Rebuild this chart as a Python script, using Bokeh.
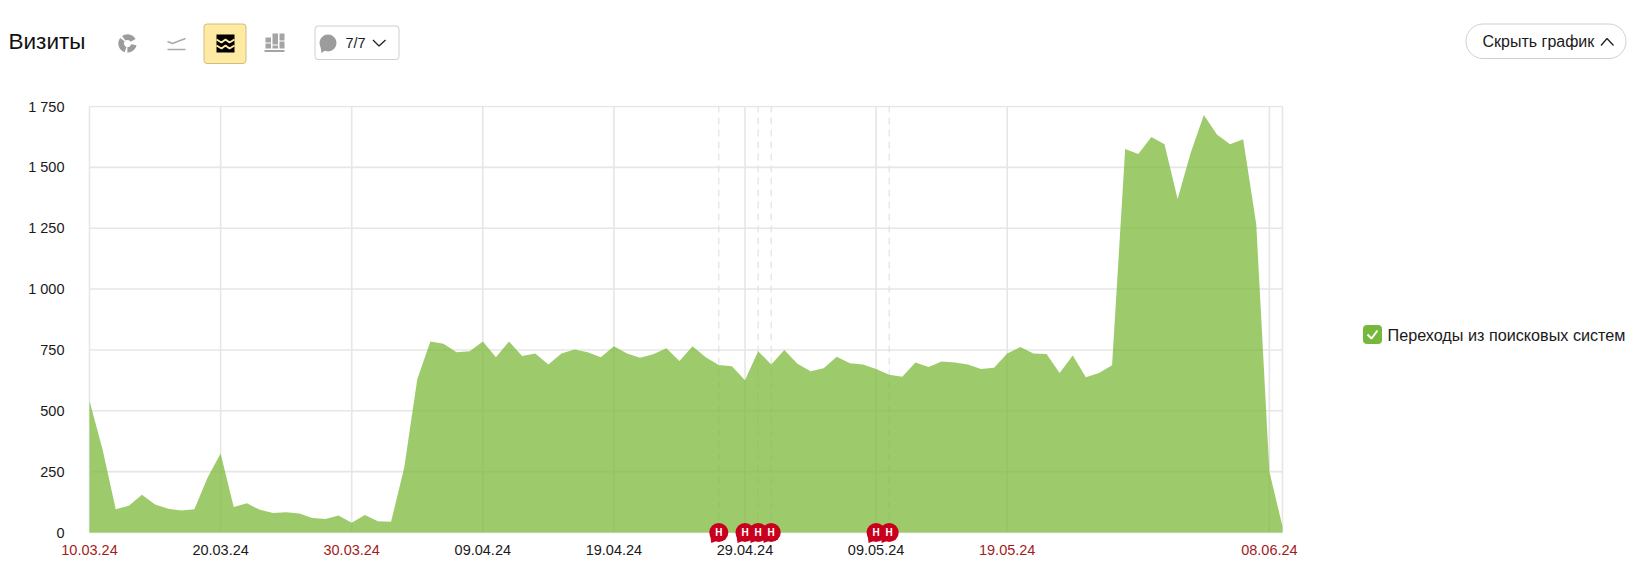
from datetime import datetime, timedelta

from bokeh.core.properties import value
from bokeh.embed import file_html
from bokeh.layouts import column, row
from bokeh.models import BoxAnnotation, FixedTicker, LinearAxis, Range1d
from bokeh.plotting import figure
from bokeh.resources import INLINE

# ---- data ----
start_date = "2024-03-10"
visits = [540, 340, 95, 110, 155, 115, 98, 90, 95, 225, 325, 105, 120, 93, 80, 83, 78, 60, 55, 70,
          40, 72, 46, 44, 265, 630, 785, 775, 740, 745, 785, 720, 785, 725, 735, 690, 735, 752, 740, 720,
          765, 735, 718, 732, 757, 705, 765, 720, 688, 683, 625, 745, 690, 750, 693, 662, 675, 722, 695, 690,
          672, 648, 640, 698, 680, 702, 698, 690, 672, 677, 735, 762, 735, 733, 655, 727, 638, 655, 687, 1575,
          1555, 1625, 1595, 1370, 1560, 1715, 1635, 1595, 1615, 1265, 250, 25]
y_ticks = [0, 250, 500, 750, 1000, 1250, 1500, 1750]
y_labels = ["0", "250", "500", "750", "1 000", "1 250", "1 500", "1 750"]
black_ticks = ["2024-03-20", "2024-04-09", "2024-04-19", "2024-04-29", "2024-05-09"]
red_ticks = ["2024-03-10", "2024-03-30", "2024-05-19", "2024-06-08"]
note_dates = ["2024-04-27", "2024-04-29", "2024-04-30", "2024-05-01", "2024-05-09", "2024-05-10"]
dashed_dates = ["2024-04-27", "2024-04-30", "2024-05-01", "2024-05-10"]
title = "Визиты"
legend_label = "Переходы из поисковых систем"
hide_label = "Скрыть график"
notes_label = "7/7"

FONT = value("Liberation Sans")
GRID = "#e6e6e6"
INK = "#1a1a1a"
GRAY = "#9c9c9c"
RED = "#c8001e"


def d(s):
    return datetime.strptime(s, "%Y-%m-%d")


dates = [d(start_date) + timedelta(days=i) for i in range(len(visits))]


def box(fig, l, r, t, b, fill, line, radius):
    fig.add_layout(BoxAnnotation(left=l, right=r, top=t, bottom=b, left_units="data", right_units="data",
                                 top_units="data", bottom_units="data", fill_color=fill, fill_alpha=1,
                                 line_color=line, line_alpha=1, line_width=1, border_radius=radius, level="annotation"))


# ---- header strip, drawn in page pixels ----
h = figure(width=1637, height=78, x_range=Range1d(0, 1637), y_range=Range1d(78, 0), output_backend="svg",
           toolbar_location=None, x_axis_location=None, y_axis_location=None, min_border=0,
           outline_line_color=None)
h.grid.visible = False
h.text([8], [41], text=[title], text_font=FONT, text_font_size="22.5px", text_color="#111111",
       text_baseline="middle", text_align="left")

# pie icon
for a0, a1 in [(0.5, 2.2), (2.5, 4.4), (4.7, 6.1)]:
    h.annular_wedge([127], [43], inner_radius=3.6, outer_radius=9.2, start_angle=a0, end_angle=a1,
                    fill_color=GRAY, line_color=None)
# line icon
h.line([167, 172, 177, 185], [41, 43, 41, 38], line_color="#aaaaaa", line_width=1.5)
h.line([167, 185], [49, 49], line_color="#aaaaaa", line_width=1.5)
# active stacked icon
box(h, 203.5, 245.5, 63, 23.5, "#ffeaa3", "#d3bd7c", 3)
h.quad(left=[216], right=[234], top=[34], bottom=[52], fill_color="#000000", line_color=None, level="overlay")
for yy in (40, 46):
    h.line([216, 221, 225, 229, 234], [yy - 1, yy + 2, yy - 1, yy + 2, yy - 1], line_color="#ffeaa3",
           line_width=2, level="overlay")
# bars icon
h.quad(left=[265, 265, 272, 272, 279, 279], right=[270.5, 270.5, 277.5, 277.5, 284, 284],
       top=[37, 43, 33, 45, 33, 41], bottom=[42, 48, 44, 48, 40, 48], fill_color="#a4a4a4", line_color=None)
h.line([264, 284], [50.5, 50.5], line_color="#a4a4a4", line_width=2)
# notes filter button
box(h, 314.5, 398.5, 59, 25.5, "#ffffff", "#cfcfcf", 3)
h.circle([327.5], [42.5], radius=8.5, fill_color=GRAY, line_color=None, level="overlay")
h.patch([320, 326, 321], [46, 49, 52.5], fill_color=GRAY, line_color=None, level="overlay")
h.text([345], [42.5], text=[notes_label], text_font=FONT, text_font_size="14.5px", text_color=INK,
       text_baseline="middle", text_align="left", level="overlay")
h.line([372.5, 378.5, 385], [39.5, 45.5, 39.5], line_color="#222222", line_width=1.3, level="overlay")
# hide chart button
box(h, 1465.5, 1625.5, 58, 23.5, "#ffffff", "#cfcfcf", 17)
h.text([1482], [41], text=[hide_label], text_font=FONT, text_font_size="16px", text_color=INK,
       text_baseline="middle", text_align="left", level="overlay")
h.line([1600.5, 1606.5, 1613], [45, 38, 45], line_color="#222222", line_width=1.3, level="overlay")

# ---- chart ----
PX_PER_UNIT = 426 / 1750
PX_PER_DAY = 13.1


def px_x(n, dx):
    return n + timedelta(days=dx / PX_PER_DAY)


# the frame runs past the data on both sides so that the end date labels fit inside it
p = figure(width=1298, height=505, x_axis_type="datetime",
           x_range=Range1d(px_x(dates[0], -33), px_x(dates[-1], 15)),
           y_range=Range1d(-30 / PX_PER_UNIT, 1750 + 1 / PX_PER_UNIT),
           output_backend="svg", toolbar_location=None, x_axis_location=None, y_axis_location=None,
           min_border_left=56, min_border_right=1, min_border_top=27, min_border_bottom=21,
           outline_line_color=None)
p.grid.visible = False

all_ticks = [d(s) for s in sorted(black_ticks + red_ticks)]
# horizontal and vertical rules
p.segment(x0=[dates[0]] * len(y_ticks), x1=[dates[-1]] * len(y_ticks), y0=y_ticks, y1=y_ticks,
          line_color=GRID, line_width=1.6)
p.segment(x0=all_ticks + [dates[-1]], x1=all_ticks + [dates[-1]], y0=[0] * (len(all_ticks) + 1),
          y1=[y_ticks[-1]] * (len(all_ticks) + 1), line_color=GRID, line_width=1.6)
dd = [d(s) for s in dashed_dates]
p.segment(x0=dd, x1=dd, y0=[0] * len(dd), y1=[y_ticks[-1]] * len(dd), line_color="#e2e2e2", line_width=1.2,
          line_dash="7 5")

p.varea(x=dates, y1=[0] * len(visits), y2=visits, fill_color="#7cb83a", fill_alpha=0.75)

# y axis
ya = LinearAxis(ticker=FixedTicker(ticks=y_ticks), major_label_overrides=dict(zip(y_ticks, y_labels)),
                axis_line_color=None, major_tick_line_color=None, minor_tick_line_color=None,
                major_label_standoff=-14, major_label_text_font="Liberation Sans",
                major_label_text_font_size="14.5px", major_label_text_color=INK)
p.add_layout(ya, "left")

# date labels under the zero line, per-label colour
for ticks, color in ((black_ticks, INK), (red_ticks, "#a31c1c")):
    tx = [d(t) for t in ticks]
    p.text(x=tx, y=[0] * len(tx), text=[t.strftime("%d.%m.%y") for t in tx], y_offset=17.5,
           text_font=FONT, text_font_size="14.5px", text_color=color, text_align="center",
           text_baseline="middle")

# note markers
nd = [d(s) for s in note_dates]
p.patches(xs=[[px_x(n, -8.5), px_x(n, -7.5), px_x(n, -1)] for n in nd],
          ys=[[-3 / PX_PER_UNIT, -10.5 / PX_PER_UNIT, -8 / PX_PER_UNIT] for _ in nd],
          fill_color=RED, line_color=None)
p.scatter(x=nd, y=[0] * len(nd), marker="circle", size=19, fill_color=RED, line_color=None)
p.text(x=nd, y=[0] * len(nd), text=["Н"] * len(nd), text_font=FONT, text_font_style="bold", text_font_size="10px",
       text_color="#ffffff", text_align="center", text_baseline="middle")

# ---- legend panel, drawn in page pixels (frame borders match the chart, whose frame it aligns with) ----
s = figure(width=339, height=505, x_range=Range1d(1298, 1637), y_range=Range1d(562, 105), output_backend="svg",
           toolbar_location=None, x_axis_location=None, y_axis_location=None, min_border_left=0, min_border_right=0,
           min_border_top=27, min_border_bottom=21, outline_line_color=None)
s.grid.visible = False
box(s, 1363, 1381, 343, 325, "#76b83b", "#76b83b", 3)
s.line([1367, 1371, 1377], [334, 338, 330], line_color="#ffffff", line_width=2, level="overlay")
s.text([1387], [334.5], text=[legend_label], text_font=FONT, text_font_size="16.2px", text_color=INK,
       text_baseline="middle", text_align="left")

layout = column(h, row(p, s, spacing=0), spacing=0)
open("out.html", "w").write(file_html(layout, INLINE))
